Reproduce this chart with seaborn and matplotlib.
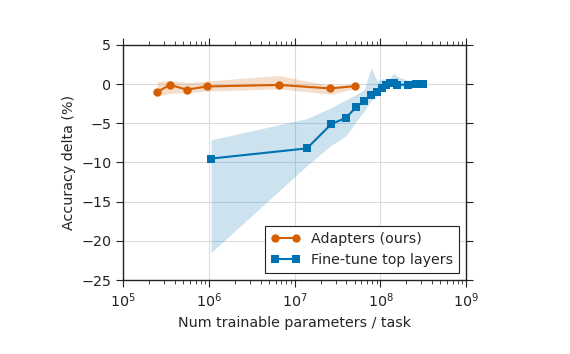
import numpy as np
import pandas as pd
import matplotlib
matplotlib.use('Agg')
import matplotlib.pyplot as plt
import seaborn as sns

# Adapters (ours)
adapter_params = [2.5e5, 3.5e5, 5.5e5, 9.5e5, 6.6e6, 2.6e7, 5.1e7]
adapter_delta = [-1.0, -0.1, -0.7, -0.3, -0.1, -0.55, -0.25]
adapter_upper = [0.3, 0.5, 0.2, 0.4, 1.1, -0.2, 0.0]
adapter_lower = [-1.5, -1.2, -1.1, -0.9, -0.6, -1.3, -0.6]

# Fine-tune top layers
topk_params = [1.06e6, 1.39e7, 2.67e7, 3.95e7, 5.25e7, 6.5e7, 7.8e7, 9.1e7,
               1.05e8, 1.17e8, 1.3e8, 1.42e8, 1.55e8, 2.07e8, 2.59e8, 3.1e8]
topk_delta = [-9.5, -8.2, -5.1, -4.3, -2.9, -2.1, -1.4, -1.05,
              -0.45, -0.15, 0.1, 0.15, -0.1, -0.05, 0.0, 0.0]
topk_upper = [-7.1, -4.4, -3.0, -2.0, -1.3, -0.65, 2.1, 0.4,
              0.7, 0.6, 0.8, 1.4, 1.0, 0.5, 0.1, 0.0]
topk_lower = [-21.5, -10.4, -7.8, -6.6, -4.7, -3.4, -2.1, -1.5,
              -0.9, -0.45, -0.25, -0.2, -0.4, -0.3, -0.1, 0.0]

orange = '#D55E00'
blue = '#0072B2'

sns.set_style('ticks')
plt.rcParams['font.family'] = ['DejaVu Sans']

fig = plt.figure(figsize=(5.7, 3.54), dpi=100)
ax = fig.add_axes([0.216, 0.209, 0.602, 0.664])

df_a = pd.DataFrame({'params': adapter_params, 'delta': adapter_delta})
df_t = pd.DataFrame({'params': topk_params, 'delta': topk_delta})

ax.fill_between(adapter_params, adapter_lower, adapter_upper, color=orange, alpha=0.2, lw=0)
ax.fill_between(topk_params, topk_lower, topk_upper, color=blue, alpha=0.2, lw=0)

sns.lineplot(data=df_a, x='params', y='delta', ax=ax, color=orange, marker='o',
             markersize=6, markeredgewidth=0, lw=1.5, label='Adapters (ours)')
sns.lineplot(data=df_t, x='params', y='delta', ax=ax, color=blue, marker='s',
             markersize=5.5, markeredgewidth=0, lw=1.5, label='Fine-tune top layers')

ax.set_xscale('log')
ax.set_xlim(1e5, 1e9)
ax.set_ylim(-25, 5)
ax.set_yticks([5, 0, -5, -10, -15, -20, -25])
ax.grid(True, which='major', color='#dcdcdc', lw=0.8)
ax.set_axisbelow(True)
for s in ax.spines.values():
    s.set_color('#222222')
    s.set_linewidth(1.0)
ax.tick_params(which='major', direction='out', length=5, top=True, right=True,
               labelsize=10.3, colors='#222222')
ax.tick_params(which='minor', direction='out', length=3, top=True, right=True)

ax.set_xlabel('Num trainable parameters / task', fontsize=10.3)
ax.set_ylabel('Accuracy delta (%)', fontsize=10.3)

leg = ax.legend(loc='lower right', fontsize=10.3, fancybox=False, framealpha=1,
                edgecolor='#222222', borderaxespad=0.5, handlelength=2.0,
                numpoints=2)
leg.get_frame().set_linewidth(0.8)

fig.savefig('out.png', dpi=100)
